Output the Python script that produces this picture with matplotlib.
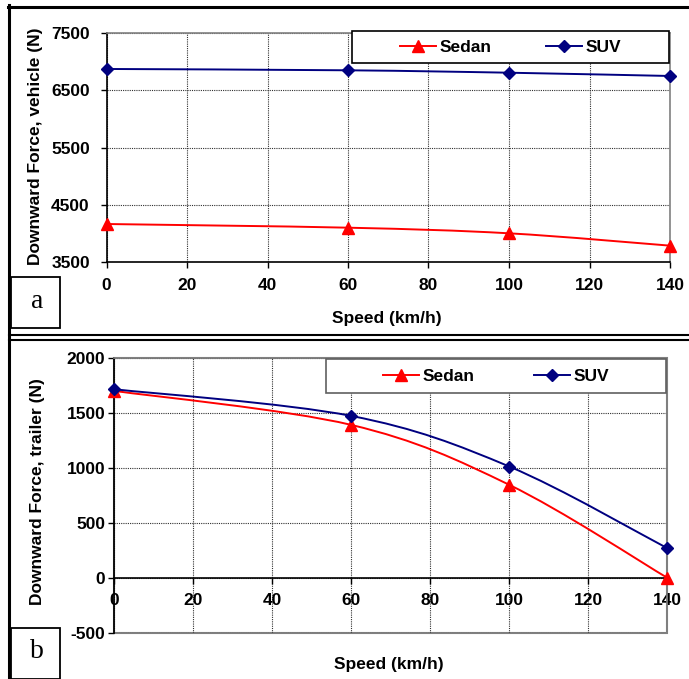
import numpy as np
import matplotlib
matplotlib.use("Agg")
import matplotlib.pyplot as plt
from matplotlib.path import Path
from matplotlib.patches import PathPatch, Rectangle
from matplotlib.lines import Line2D

plt.rcParams['font.family'] = ['Liberation Sans', 'DejaVu Sans']
plt.rcParams['axes.unicode_minus'] = False

speed = [0, 60, 100, 140]
sedan_vehicle = [4167, 4103, 4005, 3790]
suv_vehicle = [6868, 6845, 6803, 6746]
sedan_trailer = [1703, 1393, 847, 0]
suv_trailer = [1718, 1475, 1014, 270]

xticks = [0, 20, 40, 60, 80, 100, 120, 140]
yticks_a = [3500, 4500, 5500, 6500, 7500]
yticks_b = [-500, 0, 500, 1000, 1500, 2000]

RED = '#FF0000'
NAVY = '#000080'
W, H = 689, 679
FS = 12.5


def smooth_path(x, y):
    pts = np.column_stack([x, y]).astype(float)
    n = len(pts)
    verts = [pts[0]]
    codes = [Path.MOVETO]
    for i in range(n - 1):
        p0 = pts[i - 1] if i > 0 else pts[i]
        p1 = pts[i]
        p2 = pts[i + 1]
        p3 = pts[i + 2] if i + 2 < n else pts[i + 1]
        verts += [p1 + (p2 - p0) / 6, p2 - (p3 - p1) / 6, p2]
        codes += [Path.CURVE4] * 3
    return Path(verts, codes)


def draw_series(ax, x, y, color, marker, ms):
    ax.add_patch(PathPatch(smooth_path(x, y), facecolor='none', edgecolor=color,
                           lw=1.4, zorder=3))
    ax.plot(x, y, linestyle='none', marker=marker, color=color, markersize=ms,
            markeredgecolor=color, zorder=4, clip_on=False)


def fx(px):
    return px / W


def fy(py):
    return 1 - py / H


fig = plt.figure(figsize=(W / 100, H / 100), dpi=100)

# Panel a
ax1 = fig.add_axes([fx(106.5), fy(262.3), fx(670) - fx(106.5), fy(32.7) - fy(262.3)])
draw_series(ax1, speed, sedan_vehicle, RED, '^', 8)
draw_series(ax1, speed, suv_vehicle, NAVY, 'D', 6)
ax1.set_xlim(0, 140)
ax1.set_ylim(3500, 7500)
ax1.set_xticks(xticks)
ax1.set_yticks(yticks_a)

# Panel b
ax2 = fig.add_axes([fx(114.3), fy(632.7), fx(667.3) - fx(114.3), fy(358.3) - fy(632.7)])
draw_series(ax2, speed, sedan_trailer, RED, '^', 8)
draw_series(ax2, speed, suv_trailer, NAVY, 'D', 6)
ax2.set_xlim(0, 140)
ax2.set_ylim(-500, 2000)
ax2.set_xticks(xticks)
ax2.set_yticks(yticks_b)
ax2.spines['bottom'].set_position(('data', 0))

for ax, ypad in ((ax1, 8), (ax2, 2.5)):
    ax.grid(True, linestyle=(0, (1, 1)), color='#303030', lw=0.8)
    ax.set_axisbelow(True)
    for s in ('top', 'right'):
        ax.spines[s].set_color('#808080')
        ax.spines[s].set_linewidth(1.2)
    for s in ('left', 'bottom'):
        ax.spines[s].set_color('black')
        ax.spines[s].set_linewidth(1.2)
    ax.tick_params(axis='both', direction='out', length=4, width=1, labelsize=FS)
    ax.tick_params(axis='x', pad=7)
    ax.tick_params(axis='y', pad=ypad)
    for lab in ax.get_xticklabels() + ax.get_yticklabels():
        lab.set_fontweight('bold')

# gray bottom border of panel b plot area
ax2.add_patch(Rectangle((0, 0), 1, 1, transform=ax2.transAxes, facecolor='none',
                        edgecolor='#808080', lw=1.5, clip_on=False, zorder=0.5))

# axis titles
fig.text(fx(36), fy(146), 'Downward Force, vehicle (N)', rotation=90, ha='center',
         va='center', fontsize=FS, fontweight='bold')
fig.text(fx(38), fy(492), 'Downward Force, trailer (N)', rotation=90, ha='center',
         va='center', fontsize=FS, fontweight='bold')
fig.text(fx(387), fy(318), 'Speed (km/h)', ha='center', va='center', fontsize=FS,
         fontweight='bold')
fig.text(fx(389), fy(665), 'Speed (km/h)', ha='center', va='center', fontsize=FS,
         fontweight='bold')

# legends
handles = [Line2D([], [], color=RED, marker='^', markersize=8, lw=1.4),
           Line2D([], [], color=NAVY, marker='D', markersize=6, lw=1.4)]
labels = ['Sedan', 'SUV']
for (x0, x1, y0, y1, edge, csp) in ((352, 669, 31, 63, 'black', 3.1),
                                     (326, 666, 359, 393, '#606060', 3.4)):
    fig.add_artist(Rectangle((fx(x0), fy(y1)), fx(x1) - fx(x0), fy(y0) - fy(y1),
                             transform=fig.transFigure, facecolor='white',
                             edgecolor=edge, lw=1.2, zorder=2))
    fig.legend(handles, labels, loc='center',
               bbox_to_anchor=(fx((x0 + x1) / 2), fy((y0 + y1) / 2)),
               ncol=2, frameon=False, prop={'weight': 'bold', 'size': FS},
               handlelength=2.1, handletextpad=0.2, columnspacing=csp,
               borderpad=0, borderaxespad=0).set_zorder(3)

# frame lines
lines = [
    ((8, 689), (6.5, 6.5), 2.2),
    ((9, 9), (5, 679), 2.2),
    ((9, 689), (335, 335), 1.5),
    ((9, 689), (339.5, 339.5), 1.5),
]
for xs, ys, lw in lines:
    fig.add_artist(Line2D([fx(xs[0]), fx(xs[1])], [fy(ys[0]), fy(ys[1])],
                          transform=fig.transFigure, color='black', lw=lw, zorder=6))

# panel label boxes
for (x0, y0, x1, y1, lab, ty) in ((11, 277, 60, 328, 'a', 302),
                                  (11, 628, 60, 679, 'b', 652)):
    fig.add_artist(Rectangle((fx(x0), fy(y1)), fx(x1) - fx(x0), fy(y0) - fy(y1),
                             transform=fig.transFigure, facecolor='white',
                             edgecolor='black', lw=1.3, zorder=7))
    fig.text(fx(37), fy(ty), lab, ha='center', va='center',
             fontsize=20, family=['Liberation Serif', 'DejaVu Serif'], zorder=8)

fig.savefig('out.png', dpi=100)
